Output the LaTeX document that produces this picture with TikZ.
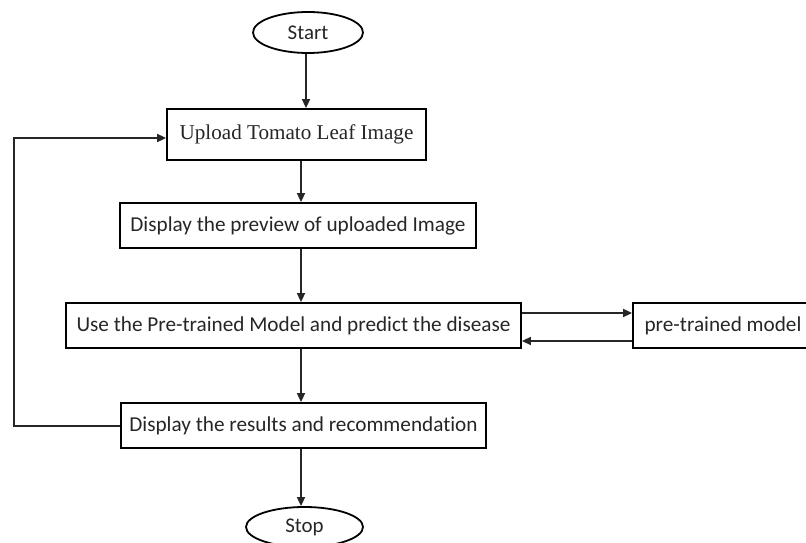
\documentclass[tikz,border=0pt]{standalone}
\usepackage{fontspec}
\setmainfont{Carlito}[Ligatures=NoCommon]
\newfontfamily\serifT{Liberation Serif}
\usetikzlibrary{shapes.geometric,arrows.meta}
\begin{document}
\begin{tikzpicture}[x=1bp,y=-1bp,
  box/.style={draw=black,line width=1.8bp,rectangle,inner sep=0pt,text=black!85,font=\fontsize{21.3}{23}\selectfont},
  oval/.style={draw=black,line width=1.8bp,ellipse,inner sep=0pt,text=black!85,font=\fontsize{21}{23}\selectfont},
  arr/.style={draw=black!85,line width=1.7bp,-{Triangle[length=9bp,width=8bp]}},
  ln/.style={draw=black!85,line width=1.7bp}]
\useasboundingbox (0,0) rectangle (806,543);
\clip (0,0) rectangle (806,543);
\node[oval,minimum width=110bp,minimum height=41bp] (start) at (308,32.5) {Start};
\node[box,minimum width=259bp,minimum height=51bp,font=\serifT\fontsize{21.2}{23}\selectfont] (upload) at (296.5,134.5) {\raisebox{-3bp}{Upload Tomato Leaf Image}};
\node[box,minimum width=356bp,minimum height=45bp] (preview) at (298,225.5) {Display the preview of uploaded Image};
\node[box,minimum width=455bp,minimum height=45bp] (use) at (293.5,325.5) {Use the Pre-trained Model and predict the disease};
\node[box,minimum width=180bp,minimum height=45bp] (model) at (723,325.5) {pre-trained model};
\node[box,minimum width=365bp,minimum height=45bp] (results) at (303.5,425.5) {Display the results and recommendation};
\node[oval,minimum width=117bp,minimum height=40bp] (stop) at (304.5,527) {Stop};
\coordinate (axis) at (301,0);
\coordinate (saxis) at (306,0);
\coordinate (loopx) at (14,0);
\coordinate (upy) at (0,313);
\coordinate (dny) at (0,341);
\coordinate (ly) at (0,138);
\coordinate (ry) at (0,426);
\draw[arr] (start.south -| saxis) -- (upload.north -| saxis);
\draw[arr] (upload.south -| axis) -- (preview.north -| axis);
\draw[arr] (preview.south -| axis) -- (use.north -| axis);
\draw[arr] (use.south -| axis) -- (results.north -| axis);
\draw[arr] (results.south -| axis) -- (stop.north -| axis);
\draw[arr] (use.east |- upy) -- (model.west |- upy);
\draw[arr] (model.west |- dny) -- (use.east |- dny);
\draw[arr] (results.west |- ry) -- (loopx |- ry) -- (loopx |- ly) -- (upload.west |- ly);
\end{tikzpicture}
\end{document}
